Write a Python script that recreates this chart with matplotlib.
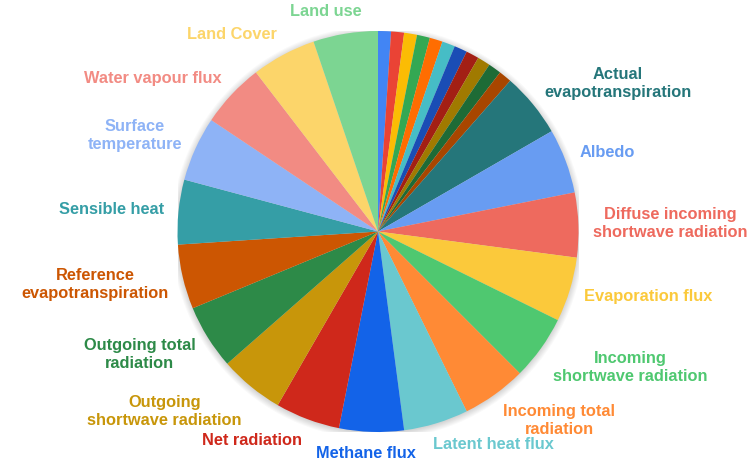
import numpy as np
import matplotlib
matplotlib.use("Agg")
import matplotlib.pyplot as plt
from matplotlib.patches import Circle

# ---- data ----
categories = ["", "", "", "", "", "", "", "", "", "", "",
              "Actual\nevapotranspiration", "Albedo",
              "Diffuse incoming\nshortwave radiation", "Evaporation flux",
              "Incoming\nshortwave radiation", "Incoming total\nradiation",
              "Latent heat flux", "Methane flux", "Net radiation",
              "Outgoing\nshortwave radiation", "Outgoing total\nradiation",
              "Reference\nevapotranspiration", "Sensible heat",
              "Surface\ntemperature", "Water vapour flux", "Land Cover", "Land use"]
values = [1, 1, 1, 1, 1, 1, 1, 1, 1, 1, 1,
          5, 5, 5, 5, 5, 5, 5, 5, 5, 5, 5, 5, 5, 5, 5, 5, 5]
colors = ["#4285F4", "#EA4335", "#FBBC04", "#34A853", "#FF6D01", "#46BDC6",
          "#1A4DB5", "#A31F14", "#A07A00", "#1E6B36", "#A84600",
          "#25767A", "#689CF2", "#EE6A5E", "#FBC93B", "#4FC870", "#FF8A35",
          "#6AC8CF", "#1363E8", "#CF281B", "#C8960A", "#2D8A48", "#CC5602",
          "#359EA6", "#8EB3F6", "#F28B83", "#FCD56A", "#7CD592"]

W, H, DPI = 752, 463, 100
fig = plt.figure(figsize=(W / DPI, H / DPI), dpi=DPI)
cx, cy, R = 378.0, 231.5, 200.5  # pixels (cy from top)
ax = fig.add_axes([(cx - R) / W, (H - cy - R) / H, 2 * R / W, 2 * R / H])
ax.set_xlim(-1, 1)
ax.set_ylim(-1, 1)
ax.axis("off")

# soft shadow
for i in range(7):
    ax.add_patch(Circle((0, -0.006), 1.0 + 0.005 * i, color="black",
                        alpha=0.022, lw=0, zorder=0))

wedges, _ = ax.pie(values, colors=colors, startangle=90, counterclock=False,
                   radius=1.0, wedgeprops=dict(linewidth=0, zorder=2))
ax.set_xlim(-1, 1)
ax.set_ylim(-1, 1)
ax.set_aspect("equal")

renderer = fig.canvas.get_renderer()
anchor_r = 1.072
for w, lab, col in zip(wedges, categories, colors):
    if not lab:
        continue
    mid = np.deg2rad((w.theta1 + w.theta2) / 2)
    x, y = np.cos(mid), np.sin(mid)
    ann = ax.annotate(lab, xy=(anchor_r * x, anchor_r * y), xytext=(0, 0),
                      textcoords="offset pixels", ha="center", va="center",
                      multialignment="center", color=col, fontsize=11.8,
                      fontweight="bold", family=["Liberation Sans", "DejaVu Sans"],
                      linespacing=1.23, annotation_clip=False)
    bb = ann.get_window_extent(renderer)
    fx = 0.5 * (1 - np.clip(3.0 * x, -1, 1))
    fy = 0.5 * (1 + np.clip(1.1 * y, -1, 1))
    ann.xyann = ((0.5 - fx) * bb.width, (fy - 0.5) * bb.height)

fig.savefig("out.png", dpi=DPI)
